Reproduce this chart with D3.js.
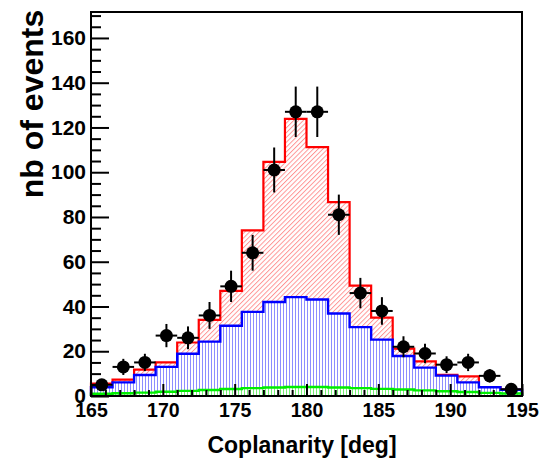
<!DOCTYPE html>
<html>
<head>
<meta charset="utf-8">
<script src="https://cdn.jsdelivr.net/npm/d3@7"></script>
<style>
  html, body { margin: 0; padding: 0; background: #fff; }
  svg { display: block; }
  text { font-family: "Liberation Sans", Arial, Helvetica, sans-serif; font-weight: bold; fill: #000; }
</style>
</head>
<body>
<svg id="chart" width="540" height="460"></svg>
<script>
// ---- data ----
const binCenters = [165.75,167.25,168.75,170.25,171.75,173.25,174.75,176.25,177.75,179.25,
                    180.75,182.25,183.75,185.25,186.75,188.25,189.75,191.25,192.75,194.25];
const binWidth = 1.5;
const dataCounts = [5,13,15,27,26,36,49,64,101,127,127,81,46,38,22,19,14,15,9,3];
const totalMC = [5.5,7.3,11.8,15,23.9,34,47,74,104.6,123.8,111.2,86.6,49.3,35,21.2,15.5,9.4,8.8,4.0,2.9];
const blueMC  = [3.9,6.1,9.4,13,18.9,24.3,31.4,37.6,42,44.2,43.1,36.9,30.8,25.2,17.9,12.7,9.1,6.1,3.9,2.8];
const greenMC = [1.0,1.2,1.5,1.9,2.3,2.7,3.1,3.5,3.8,4.0,4.0,3.8,3.5,3.2,2.9,2.5,2.1,1.8,1.4,1.1];
const xMajorTicks = [165,170,175,180,185,190,195];
const yMajorTicks = [0,20,40,60,80,100,120,140,160];
const xTitle = "Coplanarity [deg]";
const yTitle = "nb of events";

// ---- layout ----
const svg = d3.select("#chart");
const L = 91, R = 522, T = 12, B = 396;
const x = d3.scaleLinear().domain([165, 195]).range([L, R]);
const y = d3.scaleLinear().domain([0, 171.6]).range([B, T]);

// patterns
const defs = svg.append("defs");
const pRed = defs.append("pattern").attr("id","hatchRed").attr("patternUnits","userSpaceOnUse")
  .attr("width",3.4).attr("height",3.4).attr("patternTransform","rotate(45)");
pRed.append("line").attr("x1",0.5).attr("y1",0).attr("x2",0.5).attr("y2",3.4)
  .attr("stroke","#ff8c8c").attr("stroke-width",0.9);
const pBlue = defs.append("pattern").attr("id","hatchBlue").attr("patternUnits","userSpaceOnUse")
  .attr("width",3).attr("height",10);
pBlue.append("line").attr("x1",1.5).attr("y1",0).attr("x2",1.5).attr("y2",10)
  .attr("stroke","#8080ff").attr("stroke-width",0.9);
const pGreen = defs.append("pattern").attr("id","hatchGreen").attr("patternUnits","userSpaceOnUse")
  .attr("width",3).attr("height",10);
pGreen.append("line").attr("x1",1.5).attr("y1",0).attr("x2",1.5).attr("y2",10)
  .attr("stroke","#66ee66").attr("stroke-width",0.9);

function stepPoints(vals) {
  const pts = [];
  vals.forEach((v, i) => {
    const l = binCenters[i] - binWidth / 2, r = binCenters[i] + binWidth / 2;
    pts.push([x(l), y(v)], [x(r), y(v)]);
  });
  return pts;
}
function areaPath(vals) {
  const pts = stepPoints(vals);
  const first = binCenters[0] - binWidth / 2, last = binCenters[binCenters.length - 1] + binWidth / 2;
  return "M" + x(first) + "," + y(0) + pts.map(p => "L" + p[0] + "," + p[1]).join("") +
         "L" + x(last) + "," + y(0) + "Z";
}
function linePath(vals) {
  const pts = stepPoints(vals);
  const first = binCenters[0] - binWidth / 2, last = binCenters[binCenters.length - 1] + binWidth / 2;
  return "M" + x(first) + "," + y(0) + pts.map(p => "L" + p[0] + "," + p[1]).join("") +
         "L" + x(last) + "," + y(0);
}

const plot = svg.append("g");
// red (total)
plot.append("path").attr("d", areaPath(totalMC)).attr("fill", "url(#hatchRed)");
plot.append("path").attr("d", linePath(totalMC)).attr("fill", "none").attr("stroke", "#ff0000").attr("stroke-width", 2.2);
// blue
plot.append("path").attr("d", areaPath(blueMC)).attr("fill", "#fff");
plot.append("path").attr("d", areaPath(blueMC)).attr("fill", "url(#hatchBlue)");
plot.append("path").attr("d", linePath(blueMC)).attr("fill", "none").attr("stroke", "#0000ff").attr("stroke-width", 2.4);
// green
plot.append("path").attr("d", areaPath(greenMC)).attr("fill", "#fff");
plot.append("path").attr("d", areaPath(greenMC)).attr("fill", "url(#hatchGreen)");
plot.append("path").attr("d", linePath(greenMC)).attr("fill", "none").attr("stroke", "#00ee00").attr("stroke-width", 2.4);

// axes
const yMinor = d3.range(0, 171, 5).filter(v => v % 20 !== 0);
const xMinor = d3.range(165, 196, 1).filter(v => v % 5 !== 0);

const yAx = svg.append("g").attr("transform", `translate(${L},0)`)
  .call(d3.axisLeft(y).tickValues(yMajorTicks).tickSize(-18).tickPadding(5).tickFormat(d3.format("d")));
yAx.select(".domain").remove();
yAx.selectAll(".tick line").attr("stroke", "#000").attr("stroke-width", 2);
yAx.selectAll(".tick text").style("font-size", "21px").attr("font-family", null);
const yAxm = svg.append("g").attr("transform", `translate(${L},0)`)
  .call(d3.axisLeft(y).tickValues(yMinor).tickSize(-10).tickFormat(""));
yAxm.select(".domain").remove();
yAxm.selectAll(".tick line").attr("stroke", "#000").attr("stroke-width", 2);

const xAx = svg.append("g").attr("transform", `translate(0,${B})`)
  .call(d3.axisBottom(x).tickValues(xMajorTicks).tickSize(-12).tickPadding(7.6).tickFormat(d3.format("d")));
xAx.select(".domain").remove();
xAx.selectAll(".tick line").attr("stroke", "#000").attr("stroke-width", 2);
xAx.selectAll(".tick text").style("font-size", "19.5px").attr("font-family", null);
const xAxm = svg.append("g").attr("transform", `translate(0,${B})`)
  .call(d3.axisBottom(x).tickValues(xMinor).tickSize(-6).tickFormat(""));
xAxm.select(".domain").remove();
xAxm.selectAll(".tick line").attr("stroke", "#000").attr("stroke-width", 2);

// data points
const pts = svg.append("g");
dataCounts.forEach((n, i) => {
  const cx = x(binCenters[i]), cy = y(n), e = Math.sqrt(n);
  pts.append("line").attr("x1", cx).attr("x2", cx).attr("y1", y(n - e)).attr("y2", y(n + e))
    .attr("stroke", "#000").attr("stroke-width", 2);
  pts.append("line").attr("x1", x(binCenters[i] - binWidth / 2)).attr("x2", x(binCenters[i] + binWidth / 2))
    .attr("y1", cy).attr("y2", cy).attr("stroke", "#000").attr("stroke-width", 2);
  pts.append("circle").attr("cx", cx).attr("cy", cy).attr("r", 6.5).attr("fill", "#000");
});

// frame
svg.append("rect").attr("x", L).attr("y", T).attr("width", R - L).attr("height", B - T)
  .attr("fill", "none").attr("stroke", "#000").attr("stroke-width", 2);

// titles
svg.append("text").attr("x", 302).attr("y", 453).attr("text-anchor", "middle")
  .style("font-size", "23px").text(xTitle);
svg.append("text").attr("transform", "translate(43,104) rotate(-90)").attr("text-anchor", "middle")
  .style("font-size", "32px").text(yTitle);
</script>
</body>
</html>
